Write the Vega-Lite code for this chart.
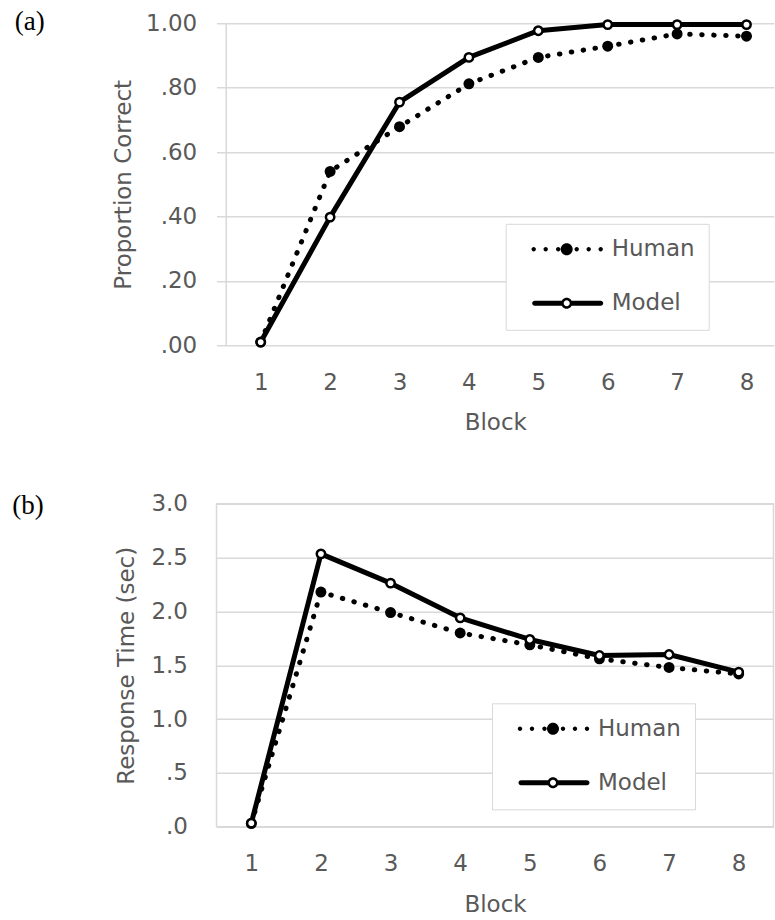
{
  "$schema": "https://vega.github.io/schema/vega-lite/v6.json",
  "padding": {"left": 11.5, "top": 7.3, "right": 0, "bottom": 0},
  "autosize": {"type": "pad"},
  "align": "all",
  "spacing": 53.5,
  "datasets": {
    "accuracy": [
      {"block": 1, "series": "Human", "value": 0.01},
      {"block": 2, "series": "Human", "value": 0.54},
      {"block": 3, "series": "Human", "value": 0.679},
      {"block": 4, "series": "Human", "value": 0.812},
      {"block": 5, "series": "Human", "value": 0.894},
      {"block": 6, "series": "Human", "value": 0.929},
      {"block": 7, "series": "Human", "value": 0.967},
      {"block": 8, "series": "Human", "value": 0.96},
      {"block": 1, "series": "Model", "value": 0.01},
      {"block": 2, "series": "Model", "value": 0.398},
      {"block": 3, "series": "Model", "value": 0.755},
      {"block": 4, "series": "Model", "value": 0.894},
      {"block": 5, "series": "Model", "value": 0.977},
      {"block": 6, "series": "Model", "value": 0.996},
      {"block": 7, "series": "Model", "value": 0.996},
      {"block": 8, "series": "Model", "value": 0.996}
    ],
    "rt": [
      {"block": 1, "series": "Human", "value": 0.03},
      {"block": 2, "series": "Human", "value": 2.18},
      {"block": 3, "series": "Human", "value": 1.99},
      {"block": 4, "series": "Human", "value": 1.80},
      {"block": 5, "series": "Human", "value": 1.69},
      {"block": 6, "series": "Human", "value": 1.56},
      {"block": 7, "series": "Human", "value": 1.48},
      {"block": 8, "series": "Human", "value": 1.42},
      {"block": 1, "series": "Model", "value": 0.034},
      {"block": 2, "series": "Model", "value": 2.535},
      {"block": 3, "series": "Model", "value": 2.263},
      {"block": 4, "series": "Model", "value": 1.941},
      {"block": 5, "series": "Model", "value": 1.74},
      {"block": 6, "series": "Model", "value": 1.591},
      {"block": 7, "series": "Model", "value": 1.6},
      {"block": 8, "series": "Model", "value": 1.437}
    ]
  },
  "resolve": {
    "scale": {"x": "independent", "y": "independent", "shape": "independent"},
    "legend": {"shape": "independent"}
  },
  "vconcat": [
    {
      "width": 557.5,
      "height": 322,
      "view": {"stroke": null},
      "title": {"text": "(a)", "anchor": "start", "frame": "bounds", "orient": "top", "font": "Liberation Serif", "fontSize": 27, "fontWeight": "normal", "color": "black", "baseline": "alphabetic", "offset": 0, "dx": -97.8, "dy": 44.6},
      "data": {"name": "accuracy"},
      "encoding": {
        "x": {"field": "block", "type": "quantitative", "scale": {"domain": [0.363, 8.396], "nice": false, "zero": false},
          "axis": {"title": "Block", "values": [1, 2, 3, 4, 5, 6, 7, 8], "format": "d", "grid": false, "domain": false, "labelPadding": 26, "titlePadding": 17, "labelFlush": false}},
        "y": {"field": "value", "type": "quantitative", "scale": {"domain": [0, 1], "nice": false, "zero": false},
          "axis": {"title": "Proportion Correct", "offset": -9.2, "values": [0, 0.2, 0.4, 0.6, 0.8, 1], "labelExpr": "datum.value >= 1 ? format(datum.value, '.2f') : substring(format(datum.value, '.2f'), 1)", "grid": true, "domain": true, "labelPadding": 29, "titlePadding": 10, "labelFlush": false}}
      },
      "layer": [
        {"transform": [{"filter": "datum.series == 'Human'"}],
         "mark": {"type": "line", "color": "black", "strokeWidth": 5, "strokeCap": "round", "strokeJoin": "round", "strokeDash": [0.5, 11.5]}},
        {"transform": [{"filter": "datum.series == 'Model'"}],
         "mark": {"type": "line", "color": "black", "strokeWidth": 5, "strokeCap": "round", "strokeJoin": "round"}},
        {"transform": [{"filter": "datum.series == 'Human'"}],
         "mark": {"type": "point", "filled": true, "color": "black", "size": 120, "opacity": 1}},
        {"transform": [{"filter": "datum.series == 'Model'"}],
         "mark": {"type": "point", "filled": true, "fill": "white", "stroke": "black", "strokeWidth": 2.5, "size": 70, "opacity": 1}},
        {"transform": [{"filter": "false"}],
         "mark": {"type": "point", "filled": true, "color": "black"},
         "encoding": {"shape": {"field": "series", "type": "nominal",
           "scale": {"domain": ["Human", "Model"], "range": [
             "M-1.07 0A0.22 0.22 0 1 1 -0.63 0A0.22 0.22 0 1 1 -1.07 0ZM0.13 0A0.22 0.22 0 1 1 0.57 0A0.22 0.22 0 1 1 0.13 0ZM1.38 0A0.22 0.22 0 1 1 1.82 0A0.22 0.22 0 1 1 1.38 0ZM1.85 0A0.6 0.6 0 1 1 3.05 0A0.6 0.6 0 1 1 1.85 0ZM3.23 0A0.22 0.22 0 1 1 3.67 0A0.22 0.22 0 1 1 3.23 0ZM4.43 0A0.22 0.22 0 1 1 4.87 0A0.22 0.22 0 1 1 4.43 0ZM5.63 0A0.22 0.22 0 1 1 6.07 0A0.22 0.22 0 1 1 5.63 0Z",
             "M-0.75 -0.25L2 -0.25L2 0.25L-0.75 0.25ZM2.9 -0.25L5.85 -0.25L5.85 0.25L2.9 0.25ZM-1 0A0.25 0.25 0 1 1 -0.5 0A0.25 0.25 0 1 1 -1 0ZM5.6 0A0.25 0.25 0 1 1 6.1 0A0.25 0.25 0 1 1 5.6 0ZM1.9 0A0.55 0.55 0 1 1 3 0A0.55 0.55 0 1 1 1.9 0ZM2.15 0A0.3 0.3 0 1 0 2.75 0A0.3 0.3 0 1 0 2.15 0Z"
           ]},
           "legend": {"title": null, "orient": "none", "legendX": 289.2, "legendY": 200.5, "symbolSize": 400, "symbolFillColor": "black", "symbolStrokeColor": "black", "symbolStrokeWidth": 0, "symbolOpacity": 1, "symbolOffset": 11, "labelOffset": 58, "labelFont": "DejaVu Sans", "labelFontSize": 23, "labelColor": "#595959", "rowPadding": 30, "padding": 14, "strokeColor": "#d9d9d9", "fillColor": "white"}}}}
      ]
    },
    {
      "width": 557,
      "height": 323,
      "view": {"stroke": "#d9d9d9", "strokeWidth": 1.5},
      "title": {"text": "(b)", "anchor": "start", "frame": "bounds", "orient": "top", "font": "Liberation Serif", "fontSize": 27, "fontWeight": "normal", "color": "black", "baseline": "alphabetic", "offset": 0, "dx": -103.6, "dy": 48},
      "data": {"name": "rt"},
      "encoding": {
        "x": {"field": "block", "type": "quantitative", "scale": {"domain": [0.5, 8.5], "nice": false, "zero": false},
          "axis": {"title": "Block", "values": [1, 2, 3, 4, 5, 6, 7, 8], "format": "d", "grid": false, "domain": false, "labelPadding": 26, "titlePadding": 18, "labelFlush": false}},
        "y": {"field": "value", "type": "quantitative", "scale": {"domain": [0, 3], "nice": false, "zero": false},
          "axis": {"title": "Response Time (sec)", "values": [0, 0.5, 1, 1.5, 2, 2.5, 3], "labelExpr": "datum.value >= 1 ? format(datum.value, '.1f') : substring(format(datum.value, '.1f'), 1)", "grid": true, "domain": false, "labelPadding": 29, "titlePadding": 12, "labelFlush": false}}
      },
      "layer": [
        {"transform": [{"filter": "datum.series == 'Human'"}],
         "mark": {"type": "line", "color": "black", "strokeWidth": 5, "strokeCap": "round", "strokeJoin": "round", "strokeDash": [0.5, 11.5]}},
        {"transform": [{"filter": "datum.series == 'Model'"}],
         "mark": {"type": "line", "color": "black", "strokeWidth": 5, "strokeCap": "round", "strokeJoin": "round"}},
        {"transform": [{"filter": "datum.series == 'Human'"}],
         "mark": {"type": "point", "filled": true, "color": "black", "size": 120, "opacity": 1}},
        {"transform": [{"filter": "datum.series == 'Model'"}],
         "mark": {"type": "point", "filled": true, "fill": "white", "stroke": "black", "strokeWidth": 2.5, "size": 70, "opacity": 1}},
        {"transform": [{"filter": "false"}],
         "mark": {"type": "point", "filled": true, "color": "black"},
         "encoding": {"shape": {"field": "series", "type": "nominal",
           "scale": {"domain": ["Human", "Model"], "range": [
             "M-1.07 0A0.22 0.22 0 1 1 -0.63 0A0.22 0.22 0 1 1 -1.07 0ZM0.13 0A0.22 0.22 0 1 1 0.57 0A0.22 0.22 0 1 1 0.13 0ZM1.38 0A0.22 0.22 0 1 1 1.82 0A0.22 0.22 0 1 1 1.38 0ZM1.85 0A0.6 0.6 0 1 1 3.05 0A0.6 0.6 0 1 1 1.85 0ZM3.23 0A0.22 0.22 0 1 1 3.67 0A0.22 0.22 0 1 1 3.23 0ZM4.43 0A0.22 0.22 0 1 1 4.87 0A0.22 0.22 0 1 1 4.43 0ZM5.63 0A0.22 0.22 0 1 1 6.07 0A0.22 0.22 0 1 1 5.63 0Z",
             "M-0.75 -0.25L2 -0.25L2 0.25L-0.75 0.25ZM2.9 -0.25L5.85 -0.25L5.85 0.25L2.9 0.25ZM-1 0A0.25 0.25 0 1 1 -0.5 0A0.25 0.25 0 1 1 -1 0ZM5.6 0A0.25 0.25 0 1 1 6.1 0A0.25 0.25 0 1 1 5.6 0ZM1.9 0A0.55 0.55 0 1 1 3 0A0.55 0.55 0 1 1 1.9 0ZM2.15 0A0.3 0.3 0 1 0 2.75 0A0.3 0.3 0 1 0 2.15 0Z"
           ]},
           "legend": {"title": null, "orient": "none", "legendX": 275.5, "legendY": 199.5, "symbolSize": 400, "symbolFillColor": "black", "symbolStrokeColor": "black", "symbolStrokeWidth": 0, "symbolOpacity": 1, "symbolOffset": 11, "labelOffset": 58, "labelFont": "DejaVu Sans", "labelFontSize": 23, "labelColor": "#595959", "rowPadding": 30, "padding": 14, "strokeColor": "#d9d9d9", "fillColor": "white"}}}}
      ]
    }
  ],
  "config": {
    "font": "DejaVu Sans",
    "axis": {"labelFont": "DejaVu Sans", "labelFontSize": 23, "labelColor": "#595959", "titleFont": "DejaVu Sans", "titleFontSize": 23, "titleColor": "#595959", "titleFontWeight": "normal", "ticks": false, "tickSize": 0, "gridColor": "#d9d9d9", "gridWidth": 1.5, "domainColor": "#d9d9d9", "domainWidth": 1.5, "labelOverlap": false}
  }
}
